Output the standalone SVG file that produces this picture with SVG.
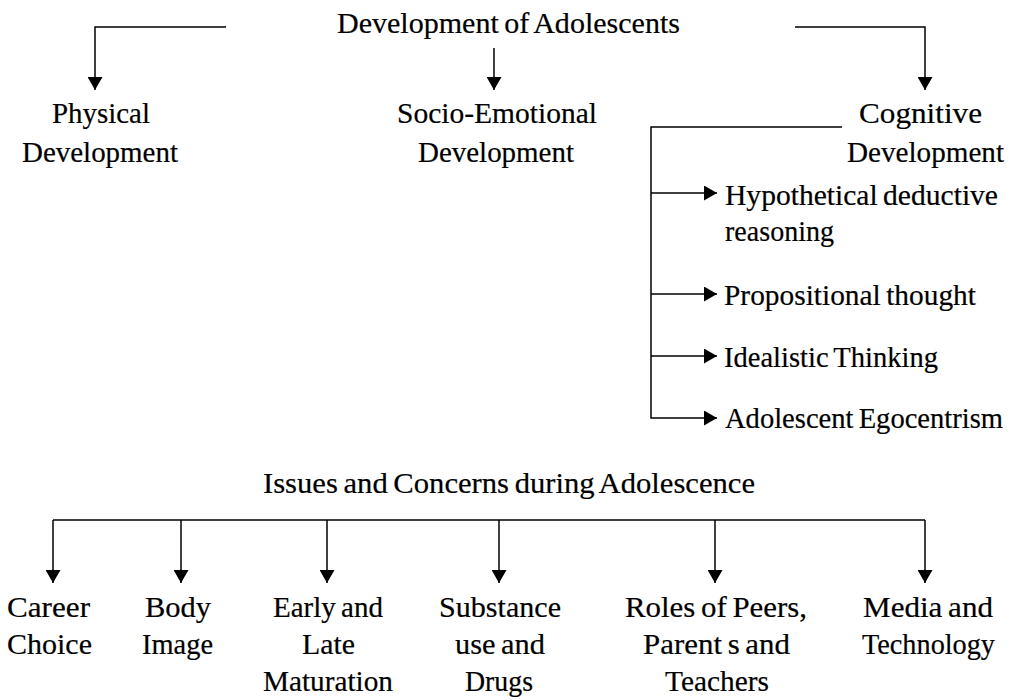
<svg xmlns="http://www.w3.org/2000/svg" width="1024" height="700" viewBox="0 0 1024 700">
<style>
.t text { font-size: 30px; fill: #000; stroke: #000; stroke-width: 0.2; word-spacing: -2px; }
.c { fill: none; stroke: #000; stroke-width: 1.5; }
</style>
<defs>
<marker id="ah" viewBox="0 0 13 15" refX="13" refY="7.5" markerWidth="13" markerHeight="15" markerUnits="userSpaceOnUse" orient="auto">
<path d="M0,0 L13,7.5 L0,15 z" fill="#000"/>
</marker>
</defs>
<rect width="1024" height="700" fill="#fff"/>
<g id="connectors">
<path class="c" d="M226,27 H95 V90" marker-end="url(#ah)"/>
<path class="c" d="M494,48 V90" marker-end="url(#ah)"/>
<path class="c" d="M795,27 H925 V90" marker-end="url(#ah)"/>
<path class="c" d="M842,127 H651 V418 H717" marker-end="url(#ah)"/>
<path class="c" d="M651,193 H717" marker-end="url(#ah)"/>
<path class="c" d="M651,294 H717" marker-end="url(#ah)"/>
<path class="c" d="M651,356 H717" marker-end="url(#ah)"/>
<path class="c" d="M53,520 H925"/>
<path class="c" d="M53,520 V583" marker-end="url(#ah)"/>
<path class="c" d="M181,520 V583" marker-end="url(#ah)"/>
<path class="c" d="M327,520 V583" marker-end="url(#ah)"/>
<path class="c" d="M499,520 V583" marker-end="url(#ah)"/>
<path class="c" d="M715,520 V583" marker-end="url(#ah)"/>
<path class="c" d="M925,520 V583" marker-end="url(#ah)"/>
</g>
<g class="t" font-family="Liberation Serif, Times New Roman, serif">
<g id="root">
<text x="337" y="33" textLength="343" lengthAdjust="spacingAndGlyphs">Development of Adolescents</text>
</g>
<g id="physical">
<text x="52" y="123" textLength="98" lengthAdjust="spacingAndGlyphs">Physical</text>
<text x="22" y="162" textLength="156" lengthAdjust="spacingAndGlyphs">Development</text>
</g>
<g id="socio">
<text x="397" y="123" textLength="200" lengthAdjust="spacingAndGlyphs">Socio-Emotional</text>
<text x="418" y="162" textLength="156" lengthAdjust="spacingAndGlyphs">Development</text>
</g>
<g id="cognitive">
<text x="859" y="123" textLength="123" lengthAdjust="spacingAndGlyphs">Cognitive</text>
<text x="847" y="162" textLength="157" lengthAdjust="spacingAndGlyphs">Development</text>
</g>
<g id="hypothetical">
<text x="725" y="205" textLength="273" lengthAdjust="spacingAndGlyphs">Hypothetical deductive</text>
<text x="725" y="241" textLength="109" lengthAdjust="spacingAndGlyphs">reasoning</text>
</g>
<g id="propositional">
<text x="724" y="305" textLength="252" lengthAdjust="spacingAndGlyphs">Propositional thought</text>
</g>
<g id="idealistic">
<text x="724" y="367" textLength="214" lengthAdjust="spacingAndGlyphs">Idealistic Thinking</text>
</g>
<g id="egocentrism">
<text x="725" y="428" textLength="278" lengthAdjust="spacingAndGlyphs">Adolescent Egocentrism</text>
</g>
<g id="issues">
<text x="263" y="493" textLength="492" lengthAdjust="spacingAndGlyphs">Issues and Concerns during Adolescence</text>
</g>
<g id="career">
<text x="7" y="617" textLength="83" lengthAdjust="spacingAndGlyphs">Career</text>
<text x="7" y="654" textLength="85" lengthAdjust="spacingAndGlyphs">Choice</text>
</g>
<g id="body">
<text x="145" y="617" textLength="66" lengthAdjust="spacingAndGlyphs">Body</text>
<text x="142" y="654" textLength="71" lengthAdjust="spacingAndGlyphs">Image</text>
</g>
<g id="maturation">
<text x="273" y="617" textLength="110" lengthAdjust="spacingAndGlyphs">Early and</text>
<text x="302" y="654" textLength="53" lengthAdjust="spacingAndGlyphs">Late</text>
<text x="263" y="691" textLength="130" lengthAdjust="spacingAndGlyphs">Maturation</text>
</g>
<g id="substance">
<text x="439" y="617" textLength="122" lengthAdjust="spacingAndGlyphs">Substance</text>
<text x="455" y="654" textLength="90" lengthAdjust="spacingAndGlyphs">use and</text>
<text x="465" y="691" textLength="68" lengthAdjust="spacingAndGlyphs">Drugs</text>
</g>
<g id="roles">
<text x="625" y="617" textLength="182" lengthAdjust="spacingAndGlyphs">Roles of Peers,</text>
<text x="643" y="654" textLength="147" lengthAdjust="spacingAndGlyphs">Parent s and</text>
<text x="665" y="691" textLength="104" lengthAdjust="spacingAndGlyphs">Teachers</text>
</g>
<g id="media">
<text x="863" y="617" textLength="130" lengthAdjust="spacingAndGlyphs">Media and</text>
<text x="862" y="654" textLength="133" lengthAdjust="spacingAndGlyphs">Technology</text>
</g>
</g>
</svg>
